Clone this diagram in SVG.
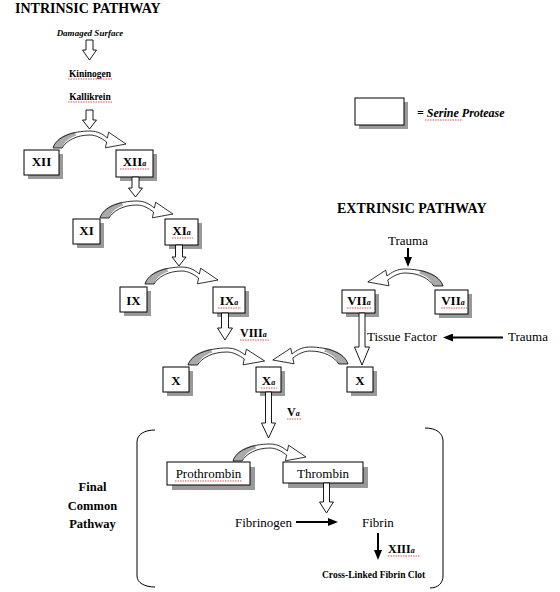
<svg xmlns="http://www.w3.org/2000/svg" xmlns:xlink="http://www.w3.org/1999/xlink" width="560" height="592" viewBox="0 0 560 592">
<style>
text{font-family:"Liberation Serif","Times New Roman",serif;fill:#000}
.title{font-size:14px;font-weight:bold}
.lbl{font-size:13px;font-weight:bold;text-anchor:middle}
.sub{font-size:8px;font-style:italic;font-weight:bold}
.sm{font-size:9.5px;font-weight:bold;text-anchor:middle}
.norm{font-size:13px}
.box{fill:#fff;stroke:#000;stroke-width:1}
.shadow{fill:#999}
.hollow{fill:#fff;stroke:#000;stroke-width:0.9}
.solid{stroke:#000;stroke-width:2;fill:none}
.sq{stroke:#d22;stroke-width:0.8;stroke-dasharray:1.5 1;fill:none}
.brk{fill:none;stroke:#000;stroke-width:1}
</style>
<defs>
<marker id="ah" markerUnits="userSpaceOnUse" markerWidth="10" markerHeight="8" refX="2" refY="4" orient="auto">
<path d="M0,0 L10,4 L0,8 Z" fill="#000"/>
</marker>
<g id="carrow">
<path d="M0,0 C3,-11 20,-17 37,-17 C45,-17 50,-13.5 54.4,-10 L55.6,-15.8 L73,-4 L52.4,-0.2 L53.6,-6 C49,-9.5 43,-13 37,-13 C23,-13 13,-7 9,0 Z" fill="#fff"/>
<path d="M0,0 C2.2,-8 10,-14 22,-16.3 L23,-12.3 C16,-10.5 11,-5.5 9,0 Z" fill="#aaa"/>
<path d="M0,0 C3,-11 20,-17 37,-17 C45,-17 50,-13.5 54.4,-10 L55.6,-15.8 L73,-4 L52.4,-0.2 L53.6,-6 C49,-9.5 43,-13 37,-13 C23,-13 13,-7 9,0 Z" fill="none" stroke="#000" stroke-width="0.8"/>
</g>
</defs>
<rect width="560" height="592" fill="#fff"/>

<g id="titles">
<text class="title" x="15" y="13">INTRINSIC PATHWAY</text>
<text class="title" x="337" y="213">EXTRINSIC PATHWAY</text>
</g>

<g id="legend">
<rect class="shadow" x="359" y="102" width="49" height="27"/>
<rect class="box" x="355" y="98" width="49" height="27"/>
<text x="417" y="117" style="font-size:12px;font-weight:bold;font-style:italic">= Serine Protease</text>
<path class="sq" d="M425,120 H462"/>
</g>

<g id="intrinsic-start">
<text x="90" y="36" style="font-size:9px;font-weight:bold;font-style:italic;text-anchor:middle">Damaged Surface</text>
<text class="sm" x="90" y="77">Kininogen</text>
<path class="sq" d="M68,79 H112"/>
<text class="sm" x="90" y="100">Kallikrein</text>
<path class="sq" d="M68,102 H112"/>
</g>

<g id="node-XII">
<rect class="shadow" x="28" y="154" width="35" height="25"/>
<rect class="box" x="24" y="150" width="35" height="25"/>
<text class="lbl" x="41.5" y="166">XII</text>
</g>
<g id="node-XIIa">
<rect class="shadow" x="120" y="154" width="37" height="27"/>
<rect class="box" x="116" y="150" width="37" height="27"/>
<text class="lbl" x="134.5" y="166">XII<tspan class="sub">a</tspan></text>
<path class="sq" d="M120,169 H149"/>
</g>
<g id="node-XI">
<rect class="shadow" x="77" y="223" width="27" height="25"/>
<rect class="box" x="73" y="219" width="27" height="25"/>
<text class="lbl" x="86.5" y="235">XI</text>
</g>
<g id="node-XIa">
<rect class="shadow" x="169" y="223" width="33" height="26"/>
<rect class="box" x="165" y="219" width="33" height="26"/>
<text class="lbl" x="181.5" y="235">XI<tspan class="sub">a</tspan></text>
<path class="sq" d="M172,238 H193"/>
</g>
<g id="node-IX">
<rect class="shadow" x="124" y="291" width="27" height="25"/>
<rect class="box" x="120" y="287" width="27" height="25"/>
<text class="lbl" x="133.5" y="305">IX</text>
</g>
<g id="node-IXa">
<rect class="shadow" x="217" y="291" width="32" height="26"/>
<rect class="box" x="213" y="287" width="32" height="26"/>
<text class="lbl" x="229" y="305">IX<tspan class="sub">a</tspan></text>
<path class="sq" d="M218,308 H241"/>
</g>
<g id="node-X-left">
<rect class="shadow" x="167" y="371" width="26" height="25"/>
<rect class="box" x="163" y="367" width="26" height="25"/>
<text class="lbl" x="176" y="385">X</text>
</g>
<g id="node-Xa">
<rect class="shadow" x="260" y="371" width="25" height="25"/>
<rect class="box" x="256" y="367" width="25" height="25"/>
<text class="lbl" x="268.5" y="385">X<tspan class="sub">a</tspan></text>
<path class="sq" d="M261,388 H277"/>
</g>
<g id="node-X-right">
<rect class="shadow" x="351" y="371" width="26" height="25"/>
<rect class="box" x="347" y="367" width="26" height="25"/>
<text class="lbl" x="360" y="385">X</text>
</g>
<g id="node-VIIa-left">
<rect class="shadow" x="346" y="294" width="33" height="23"/>
<rect class="box" x="342" y="290" width="33" height="23"/>
<text class="lbl" x="359" y="305">VII<tspan class="sub">a</tspan></text>
<path class="sq" d="M347,308 H372"/>
</g>
<g id="node-VIIa-right">
<rect class="shadow" x="439" y="294" width="33" height="24"/>
<rect class="box" x="435" y="290" width="33" height="24"/>
<text class="lbl" x="453" y="305">VII<tspan class="sub">a</tspan></text>
<path class="sq" d="M441,308 H467"/>
</g>
<g id="node-Prothrombin">
<rect class="shadow" x="172" y="467" width="83" height="23"/>
<rect class="box" x="167" y="462" width="83" height="23"/>
<text class="norm" x="208.5" y="478" text-anchor="middle">Prothrombin</text>
<path class="sq" d="M175,481 H242"/>
</g>
<g id="node-Thrombin">
<rect class="shadow" x="288" y="467" width="80" height="21"/>
<rect class="box" x="283" y="462" width="80" height="21"/>
<text class="norm" x="323" y="478" text-anchor="middle">Thrombin</text>
</g>

<g id="labels">
<text x="240" y="337" style="font-size:12px;font-weight:bold">VIII<tspan class="sub">a</tspan></text>
<path class="sq" d="M240,340 H270"/>
<text x="287" y="416" style="font-size:12px;font-weight:bold">V<tspan class="sub">a</tspan></text>
<path class="sq" d="M287,419 H302"/>
<text class="norm" x="408" y="245" text-anchor="middle">Trauma</text>
<text class="norm" x="367" y="341">Tissue Factor</text>
<text class="norm" x="508" y="341">Trauma</text>
<text class="norm" x="235" y="527">Fibrinogen</text>
<text class="norm" x="362" y="527">Fibrin</text>
<text x="388" y="553" style="font-size:12px;font-weight:bold">XIII<tspan class="sub">a</tspan></text>
<path class="sq" d="M388,556 H420"/>
<text x="322" y="578" style="font-size:9.5px;font-weight:bold">Cross-Linked  Fibrin Clot</text>
<text x="92.5" y="491" style="font-size:12.5px;font-weight:bold;text-anchor:middle">Final</text>
<text x="92.5" y="510" style="font-size:12.5px;font-weight:bold;text-anchor:middle">Common</text>
<text x="92.5" y="528" style="font-size:12.5px;font-weight:bold;text-anchor:middle">Pathway</text>
</g>

<g id="connectors">
<path class="hollow" d="M86,40 H93 V50 H96.5 L89.5,60 L82.5,50 H86 Z"/>
<path class="hollow" d="M86,110 H93 V120 H96.5 L89.5,129 L82.5,120 H86 Z"/>
<path class="hollow" d="M132,177 H139 V188 H142.5 L135.5,197 L128.5,188 H132 Z"/>
<path class="hollow" d="M175.5,245 H182.5 V257 H186 L179,266 L172,257 H175.5 Z"/>
<path class="hollow" d="M221.5,313 H228.5 V328 H232.5 L225,340 L217.5,328 H221.5 Z"/>
<path class="hollow" d="M265.5,392 H271.5 V423 H275.5 L268.5,438 L261.5,423 H265.5 Z"/>
<path class="hollow" d="M359,313 H365 V347 H369.5 L362,365 L354.5,347 H359 Z"/>
<path class="hollow" d="M323.5,483 H329.5 V502 H333.5 L326.5,513 L319.5,502 H323.5 Z"/>

<use xlink:href="#carrow" transform="translate(53,148)"/>
<use xlink:href="#carrow" transform="translate(100,218)"/>
<use xlink:href="#carrow" transform="translate(145,284)"/>
<use xlink:href="#carrow" transform="translate(188,365) scale(1.05,1)"/>
<use xlink:href="#carrow" transform="translate(348,364) scale(-1.03,1)"/>
<use xlink:href="#carrow" transform="translate(443,286) scale(-1.03,1)"/>
<use xlink:href="#carrow" transform="translate(233,461)"/>

<line class="solid" x1="408" y1="248" x2="408" y2="259" marker-end="url(#ah)"/>
<line class="solid" x1="503" y1="337.5" x2="451" y2="337.5" marker-end="url(#ah)"/>
<line class="solid" x1="296" y1="522" x2="330" y2="522" marker-end="url(#ah)"/>
<line class="solid" x1="378" y1="533" x2="378" y2="552" marker-end="url(#ah)"/>

<path class="brk" d="M155,430 C145,430 137,434 137,442 L137,576 C137,583 145,587 155,587"/>
<path class="brk" d="M425,428 C436,428 443,433 443,441 L443,576 C443,583 438,588 430,588"/>
</g>
</svg>
